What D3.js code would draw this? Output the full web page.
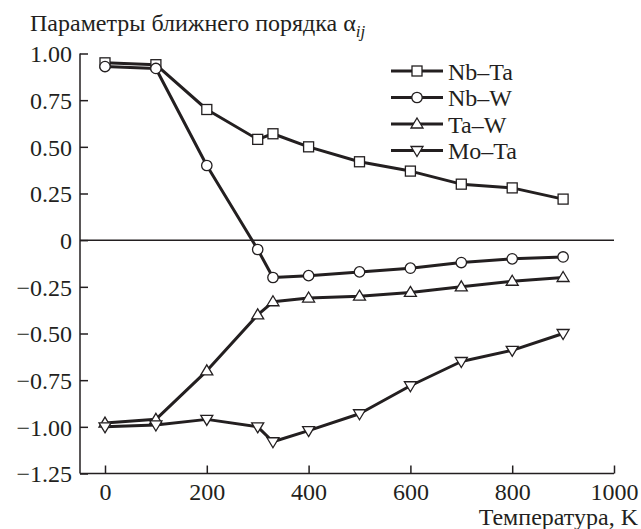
<!DOCTYPE html>
<html>
<head>
<meta charset="utf-8">
<script src="https://cdn.jsdelivr.net/npm/d3@7"></script>
</head>
<body style="margin:0;padding:0;background:#fff">
<svg id="chart" width="641" height="529" font-family="Liberation Serif" style="display:block"></svg>
<script>
const temperatures = [0, 100, 200, 300, 330, 400, 500, 600, 700, 800, 900];
const nbTa = [0.95, 0.94, 0.70, 0.54, 0.57, 0.50, 0.42, 0.37, 0.30, 0.28, 0.22];
const nbW  = [0.93, 0.92, 0.40, -0.05, -0.20, -0.19, -0.17, -0.15, -0.12, -0.10, -0.09];
const taW  = [-0.98, -0.96, -0.70, -0.40, -0.33, -0.31, -0.30, -0.28, -0.25, -0.22, -0.20];
const moTa = [-1.00, -0.99, -0.96, -1.00, -1.08, -1.02, -0.93, -0.78, -0.65, -0.59, -0.50];
const seriesNames = ["Nb–Ta", "Nb–W", "Ta–W", "Mo–Ta"];
const seriesMarkers = ["square", "circle", "triangleUp", "triangleDown"];
const xTicks = [0, 200, 400, 600, 800, 1000];
const yTicks = [1.00, 0.75, 0.50, 0.25, 0, -0.25, -0.50, -0.75, -1.00, -1.25];
const yTickLabels = ["1.00", "0.75", "0.50", "0.25", "0", "−0.25", "−0.50", "−0.75", "−1.00", "−1.25"];

const seriesValues = [nbTa, nbW, taW, moTa];
const ink = "#231f20";

const svg = d3.select("#chart");
const x = d3.scaleLinear().domain([0, 1000]).range([105, 614]);
const y = d3.scaleLinear().domain([-1.25, 1.00]).range([473.5, 53.5]);
const axisLeftX = 80;

function styleText(sel) {
  return sel.attr("font-family", "Liberation Serif").attr("font-size", 24).attr("fill", ink);
}

// Title
const title = styleText(svg.append("text").attr("x", 30).attr("y", 31));
title.append("tspan").text("Параметры ближнего порядка α");
title.append("tspan").attr("font-style", "italic").attr("font-size", 17).attr("dy", 6).text("ij");

// Y axis
const yAxis = d3.axisRight(y).tickValues(yTicks).tickSize(8).tickFormat((d, i) => yTickLabels[i]);
const gy = svg.append("g").attr("transform", `translate(${axisLeftX},0)`).call(yAxis)
  .attr("font-family", "Liberation Serif").attr("font-size", 24);
gy.select(".domain").remove();
gy.selectAll(".tick line").attr("stroke", ink).attr("stroke-width", 1.5);
styleText(gy.selectAll(".tick text").attr("x", -8).attr("text-anchor", "end").attr("dy", "0.34em"));
gy.append("line").attr("x1", 0).attr("x2", 0).attr("y1", y(1.0)).attr("y2", y(-1.25))
  .attr("stroke", ink).attr("stroke-width", 1.5);

// X axis
const xAxis = d3.axisTop(x).tickValues(xTicks).tickSize(8).tickFormat(d3.format("d"));
const gx = svg.append("g").attr("transform", `translate(0,${y(-1.25)})`).call(xAxis)
  .attr("font-family", "Liberation Serif").attr("font-size", 24);
gx.select(".domain").remove();
gx.selectAll(".tick line").attr("stroke", ink).attr("stroke-width", 1.5);
styleText(gx.selectAll(".tick text").attr("y", 26).attr("dy", 0));
gx.append("line").attr("x1", axisLeftX).attr("x2", x(1000)).attr("y1", 0).attr("y2", 0)
  .attr("stroke", ink).attr("stroke-width", 1.5);

styleText(svg.append("text").attr("x", 638).attr("y", 525).attr("text-anchor", "end"))
  .text("Температура, K");

// Zero line
svg.append("line").attr("x1", axisLeftX).attr("x2", x(1000)).attr("y1", y(0)).attr("y2", y(0))
  .attr("stroke", ink).attr("stroke-width", 1.5);

// Markers
function drawMarker(g, type, cx, cy) {
  const s = 1.3;
  if (type === "square") {
    g.append("rect").attr("x", cx - 5).attr("y", cy - 5).attr("width", 10).attr("height", 10)
      .attr("fill", "#fff").attr("stroke", ink).attr("stroke-width", s);
  } else if (type === "circle") {
    g.append("circle").attr("cx", cx).attr("cy", cy).attr("r", 5.2)
      .attr("fill", "#fff").attr("stroke", ink).attr("stroke-width", s);
  } else if (type === "triangleUp") {
    const h = 10, w = 12;
    g.append("path").attr("d", `M${cx},${cy - h * 0.6}L${cx + w / 2},${cy + h * 0.4}L${cx - w / 2},${cy + h * 0.4}Z`)
      .attr("fill", "#fff").attr("stroke", ink).attr("stroke-width", s);
  } else {
    const h = 10, w = 12;
    g.append("path").attr("d", `M${cx},${cy + h * 0.6}L${cx + w / 2},${cy - h * 0.4}L${cx - w / 2},${cy - h * 0.4}Z`)
      .attr("fill", "#fff").attr("stroke", ink).attr("stroke-width", s);
  }
}

const line = d3.line().x((d, i) => x(temperatures[i])).y(d => y(d));
const linesG = svg.append("g");
seriesValues.forEach(vals => {
  linesG.append("path").attr("d", line(vals)).attr("fill", "none")
    .attr("stroke", ink).attr("stroke-width", 3).attr("stroke-linejoin", "round");
});
const markG = svg.append("g");
seriesValues.forEach((vals, k) => {
  vals.forEach((v, i) => drawMarker(markG, seriesMarkers[k], x(temperatures[i]), y(v)));
});

// Legend
const legendRows = [71, 97.5, 124, 150.5];
const lg = svg.append("g");
seriesNames.forEach((name, k) => {
  const ry = legendRows[k];
  lg.append("line").attr("x1", 391).attr("x2", 443).attr("y1", ry).attr("y2", ry)
    .attr("stroke", ink).attr("stroke-width", 3);
  drawMarker(lg, seriesMarkers[k], 417, ry);
  styleText(lg.append("text").attr("x", 448).attr("y", ry + 8.5)).text(name);
});
</script>
</body>
</html>
